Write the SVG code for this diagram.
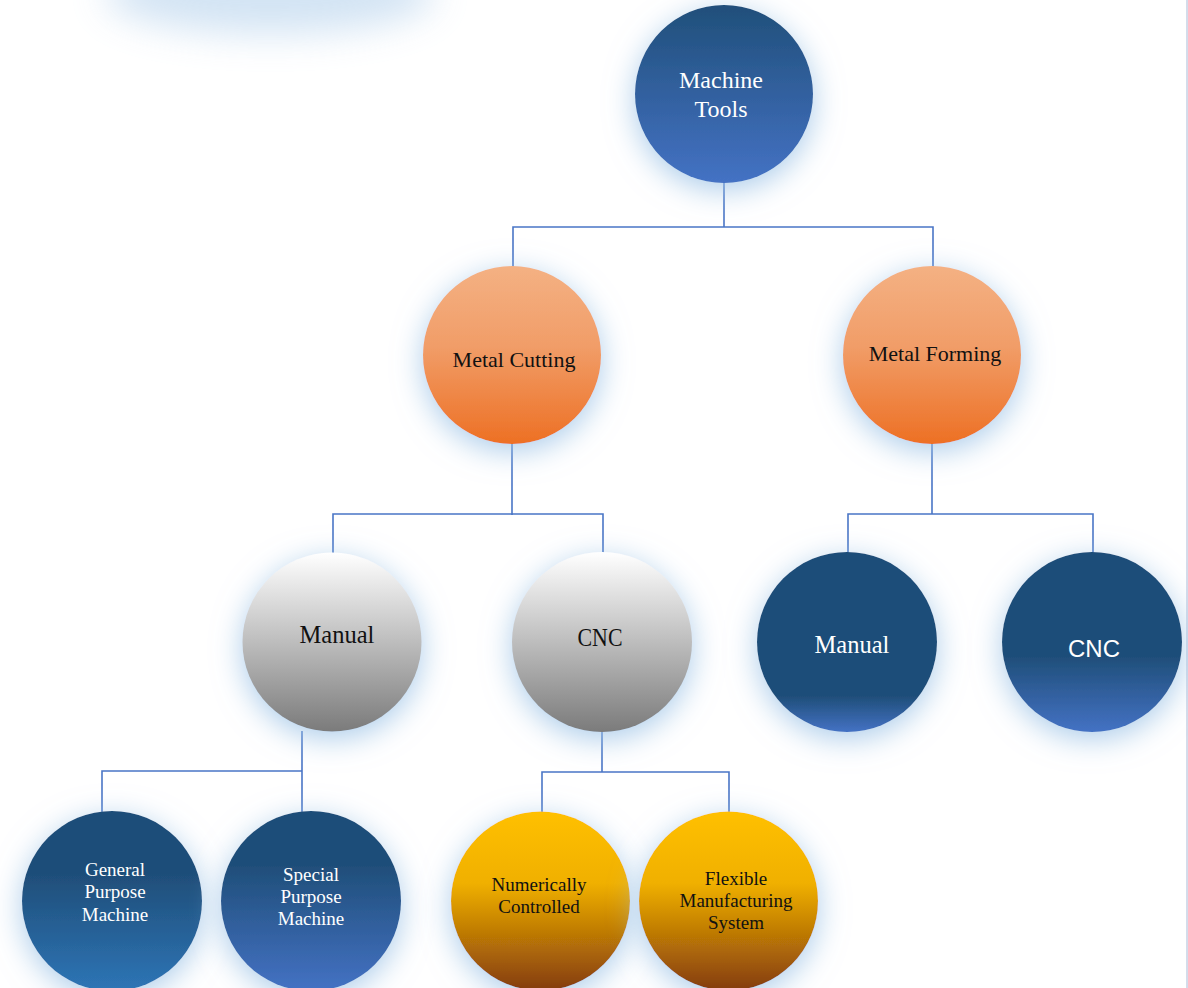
<svg xmlns="http://www.w3.org/2000/svg" width="1188" height="988" viewBox="0 0 1188 988">
<defs>
<style>
.lbl{font-family:"Liberation Serif","DejaVu Serif",serif;text-anchor:middle}
.w{fill:#ffffff}
.k{fill:#111111}
.conn{fill:none;stroke:#4a76c6;stroke-width:1.6}
</style>
<filter id="glow" x="-50%" y="-50%" width="200%" height="200%">
<feGaussianBlur in="SourceAlpha" stdDeviation="15"/>
<feOffset dy="7" result="b"/>
<feFlood flood-color="#9dc3e6" flood-opacity="0.85"/>
<feComposite in2="b" operator="in"/>
<feMerge><feMergeNode/><feMergeNode in="SourceGraphic"/></feMerge>
</filter>
<filter id="soft" x="-50%" y="-100%" width="200%" height="300%">
<feGaussianBlur stdDeviation="18"/>
</filter>
<linearGradient id="gTop" x1="0" y1="0" x2="0" y2="1">
<stop offset="0" stop-color="#204f7a"/><stop offset="1" stop-color="#4472c4"/>
</linearGradient>
<linearGradient id="gOrange" x1="0" y1="0" x2="0" y2="1">
<stop offset="0" stop-color="#f4b183"/><stop offset="0.45" stop-color="#f19d68"/><stop offset="1" stop-color="#ed7024"/>
</linearGradient>
<linearGradient id="gGray" x1="0" y1="0" x2="0" y2="1">
<stop offset="0" stop-color="#ffffff"/><stop offset="1" stop-color="#7b7b7b"/>
</linearGradient>
<linearGradient id="gNavy1" x1="0" y1="0" x2="0" y2="1">
<stop offset="0" stop-color="#1f4e79"/><stop offset="0.8" stop-color="#1f4e79"/><stop offset="1" stop-color="#4472c4"/>
</linearGradient>
<linearGradient id="gNavy2" x1="0" y1="0" x2="0" y2="1">
<stop offset="0" stop-color="#1f4e79"/><stop offset="0.58" stop-color="#1f4e79"/><stop offset="1" stop-color="#4472c4"/>
</linearGradient>
<linearGradient id="gSteel" x1="0" y1="0" x2="0" y2="1">
<stop offset="0" stop-color="#1f4e79"/><stop offset="0.35" stop-color="#1f4e79"/><stop offset="1" stop-color="#2e75b6"/>
</linearGradient>
<linearGradient id="gRoyal" x1="0" y1="0" x2="0" y2="1">
<stop offset="0" stop-color="#1f4e79"/><stop offset="0.3" stop-color="#1f4e79"/><stop offset="1" stop-color="#4472c4"/>
</linearGradient>
<linearGradient id="gGold" x1="0" y1="0" x2="0" y2="1">
<stop offset="0" stop-color="#ffc000"/><stop offset="0.4" stop-color="#f0b000"/><stop offset="1" stop-color="#843c0c"/>
</linearGradient>
</defs>

<rect width="1188" height="988" fill="#ffffff"/>
<ellipse cx="270" cy="-6" rx="165" ry="40" fill="#9dc3e6" opacity="0.45" filter="url(#soft)"/>
<line x1="1187" y1="0" x2="1187" y2="988" stroke="#a9b9d6" stroke-width="1"/>

<g id="connectors" class="conn">
<path d="M724 183V227M513 267V227H933V267"/>
<path d="M512 444V515M333 554V514H603V554"/>
<path d="M932 444V514M848 553V514H1093V553"/>
<path d="M302 731V812M102 812V771H302"/>
<path d="M602 731V772M542 812V772H729V812"/>
</g>

<g id="node-machine-tools">
<circle cx="724" cy="94" r="89" fill="url(#gTop)" filter="url(#glow)"/>
<text class="lbl w" font-size="24" x="721" y="88">Machine</text>
<text class="lbl w" font-size="24" x="721" y="117">Tools</text>
</g>

<g id="node-metal-cutting">
<circle cx="512" cy="355" r="89" fill="url(#gOrange)" filter="url(#glow)"/>
<text class="lbl k" font-size="22" x="514" y="367">Metal Cutting</text>
</g>

<g id="node-metal-forming">
<circle cx="932" cy="355" r="89" fill="url(#gOrange)" filter="url(#glow)"/>
<text class="lbl k" font-size="22" x="935" y="361">Metal Forming</text>
</g>

<g id="node-cutting-manual">
<circle cx="332" cy="642" r="89.5" fill="url(#gGray)" filter="url(#glow)"/>
<text class="lbl k" font-size="24.5" x="337" y="643">Manual</text>
</g>

<g id="node-cutting-cnc">
<circle cx="602" cy="642" r="90" fill="url(#gGray)" filter="url(#glow)"/>
<text class="lbl k" font-size="25" x="600" y="646" textLength="45" lengthAdjust="spacingAndGlyphs">CNC</text>
</g>

<g id="node-forming-manual">
<circle cx="847" cy="642" r="90" fill="url(#gNavy1)" filter="url(#glow)"/>
<text class="lbl w" font-size="24.5" x="852" y="653">Manual</text>
</g>

<g id="node-forming-cnc">
<circle cx="1092" cy="642" r="90" fill="url(#gNavy2)" filter="url(#glow)"/>
<text class="w" font-family="'Liberation Sans','Noto Sans',sans-serif" text-anchor="middle" font-size="24" x="1094" y="657">CNC</text>
</g>

<g id="node-general-purpose">
<circle cx="112" cy="901" r="90" fill="url(#gSteel)" filter="url(#glow)"/>
<text class="lbl w" font-size="19" x="115" y="876">General</text>
<text class="lbl w" font-size="19" x="115" y="898">Purpose</text>
<text class="lbl w" font-size="19" x="115" y="921">Machine</text>
</g>

<g id="node-special-purpose">
<circle cx="311" cy="901" r="90" fill="url(#gRoyal)" filter="url(#glow)"/>
<text class="lbl w" font-size="19" x="311" y="881">Special</text>
<text class="lbl w" font-size="19" x="311" y="903">Purpose</text>
<text class="lbl w" font-size="19" x="311" y="925">Machine</text>
</g>

<g id="node-numerically-controlled">
<circle cx="540.5" cy="901" r="89.5" fill="url(#gGold)" filter="url(#glow)"/>
<text class="lbl k" font-size="19" x="539" y="891">Numerically</text>
<text class="lbl k" font-size="19" x="539" y="913">Controlled</text>
</g>

<g id="node-fms">
<circle cx="728.5" cy="901" r="89.5" fill="url(#gGold)" filter="url(#glow)"/>
<text class="lbl k" font-size="19" x="736" y="885">Flexible</text>
<text class="lbl k" font-size="19" x="736" y="907">Manufacturing</text>
<text class="lbl k" font-size="19" x="736" y="929">System</text>
</g>
</svg>
